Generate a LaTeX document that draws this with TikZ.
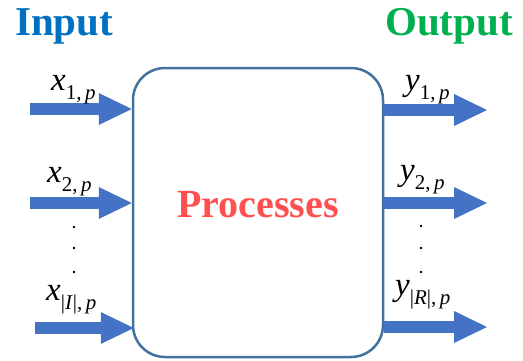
\documentclass[tikz,border=0pt]{standalone}
\usepackage{fontspec}
\setmainfont{Liberation Serif}
\usetikzlibrary{arrows.meta}
\definecolor{arrowblue}{HTML}{4472C4}
\definecolor{boxline}{HTML}{41719C}
\definecolor{inblue}{HTML}{0070C0}
\definecolor{outgreen}{HTML}{00B050}
\definecolor{procred}{HTML}{FF5050}
% variable label: big italic letter with a smaller subscript
\newcommand{\varlab}[2]{{\fontsize{33}{33}\selectfont\textit{#1}}\raisebox{-9pt}{\fontsize{21}{21}\selectfont #2}}
\tikzset{
  flow/.style={arrowblue, line width=12pt,
    -{Triangle[length=33pt,width=32pt,line width=0pt]}},
  varnode/.style={anchor=base west, inner sep=0pt},
  title/.style={anchor=base west, inner sep=0pt, font=\fontsize{41}{41}\selectfont\bfseries},
  dotmark/.style={circle, fill=black, inner sep=0pt, minimum size=2.6pt},
}
\begin{document}
\begin{tikzpicture}[x=1pt, y=-1pt]
\useasboundingbox (0,0) rectangle (523,360);

% headings
\node[title, inblue] (inTitle) at (15,35) {Input};
\node[title, outgreen] (outTitle) at (385,35) {Output};

% process box
\node[draw=boxline, line width=2.5pt, rounded corners=32pt,
      minimum width=250pt, minimum height=289pt, inner sep=0pt]
      (proc) at (258,212.5) {};
\node[anchor=base west, inner sep=0pt, procred,
      font=\fontsize{40}{40}\selectfont\bfseries] (procText) at (177,217) {Processes};

% inputs
\coordinate (in1) at (30,109);
\coordinate (in2) at (30,203);
\coordinate (in3) at (35,328);
\draw[flow] (in1) -- (proc.west |- in1);
\draw[flow] (in2) -- (proc.west |- in2);
\draw[flow] (in3) -- ([xshift=2pt]proc.west |- in3);

% outputs
\coordinate (out1) at (487,110);
\coordinate (out2) at (487,203);
\coordinate (out3) at (487,327);
\draw[flow] (proc.east |- out1) -- (out1);
\draw[flow] (proc.east |- out2) -- (out2);
\draw[flow] (proc.east |- out3) -- (out3);

% input labels
\node[varnode] (xa) at (51,90) {\varlab{x}{1,\,\textit{p}}};
\node[varnode] (xb) at (47,182) {\varlab{x}{2,\,\textit{p}}};
\node[varnode] (xc) at (46,300) {\varlab{x}{|\textit{I}|,\,\textit{p}}};

% output labels
\node[varnode] (ya) at (405,90) {\varlab{y}{1,\,\textit{p}}};
\node[varnode] (yb) at (400,180) {\varlab{y}{2,\,\textit{p}}};
\node[varnode] (yc) at (395,295) {\varlab{y}{|\textit{R}|,\,\textit{p}}};

% vertical ellipses
\node[dotmark] (ld1) at (74,227) {};
\node[dotmark] (ld2) at (74,248) {};
\node[dotmark] (ld3) at (74,272) {};
\node[dotmark] (rd1) at (421,226) {};
\node[dotmark] (rd2) at (421,248) {};
\node[dotmark] (rd3) at (421,272) {};
\end{tikzpicture}
\end{document}
